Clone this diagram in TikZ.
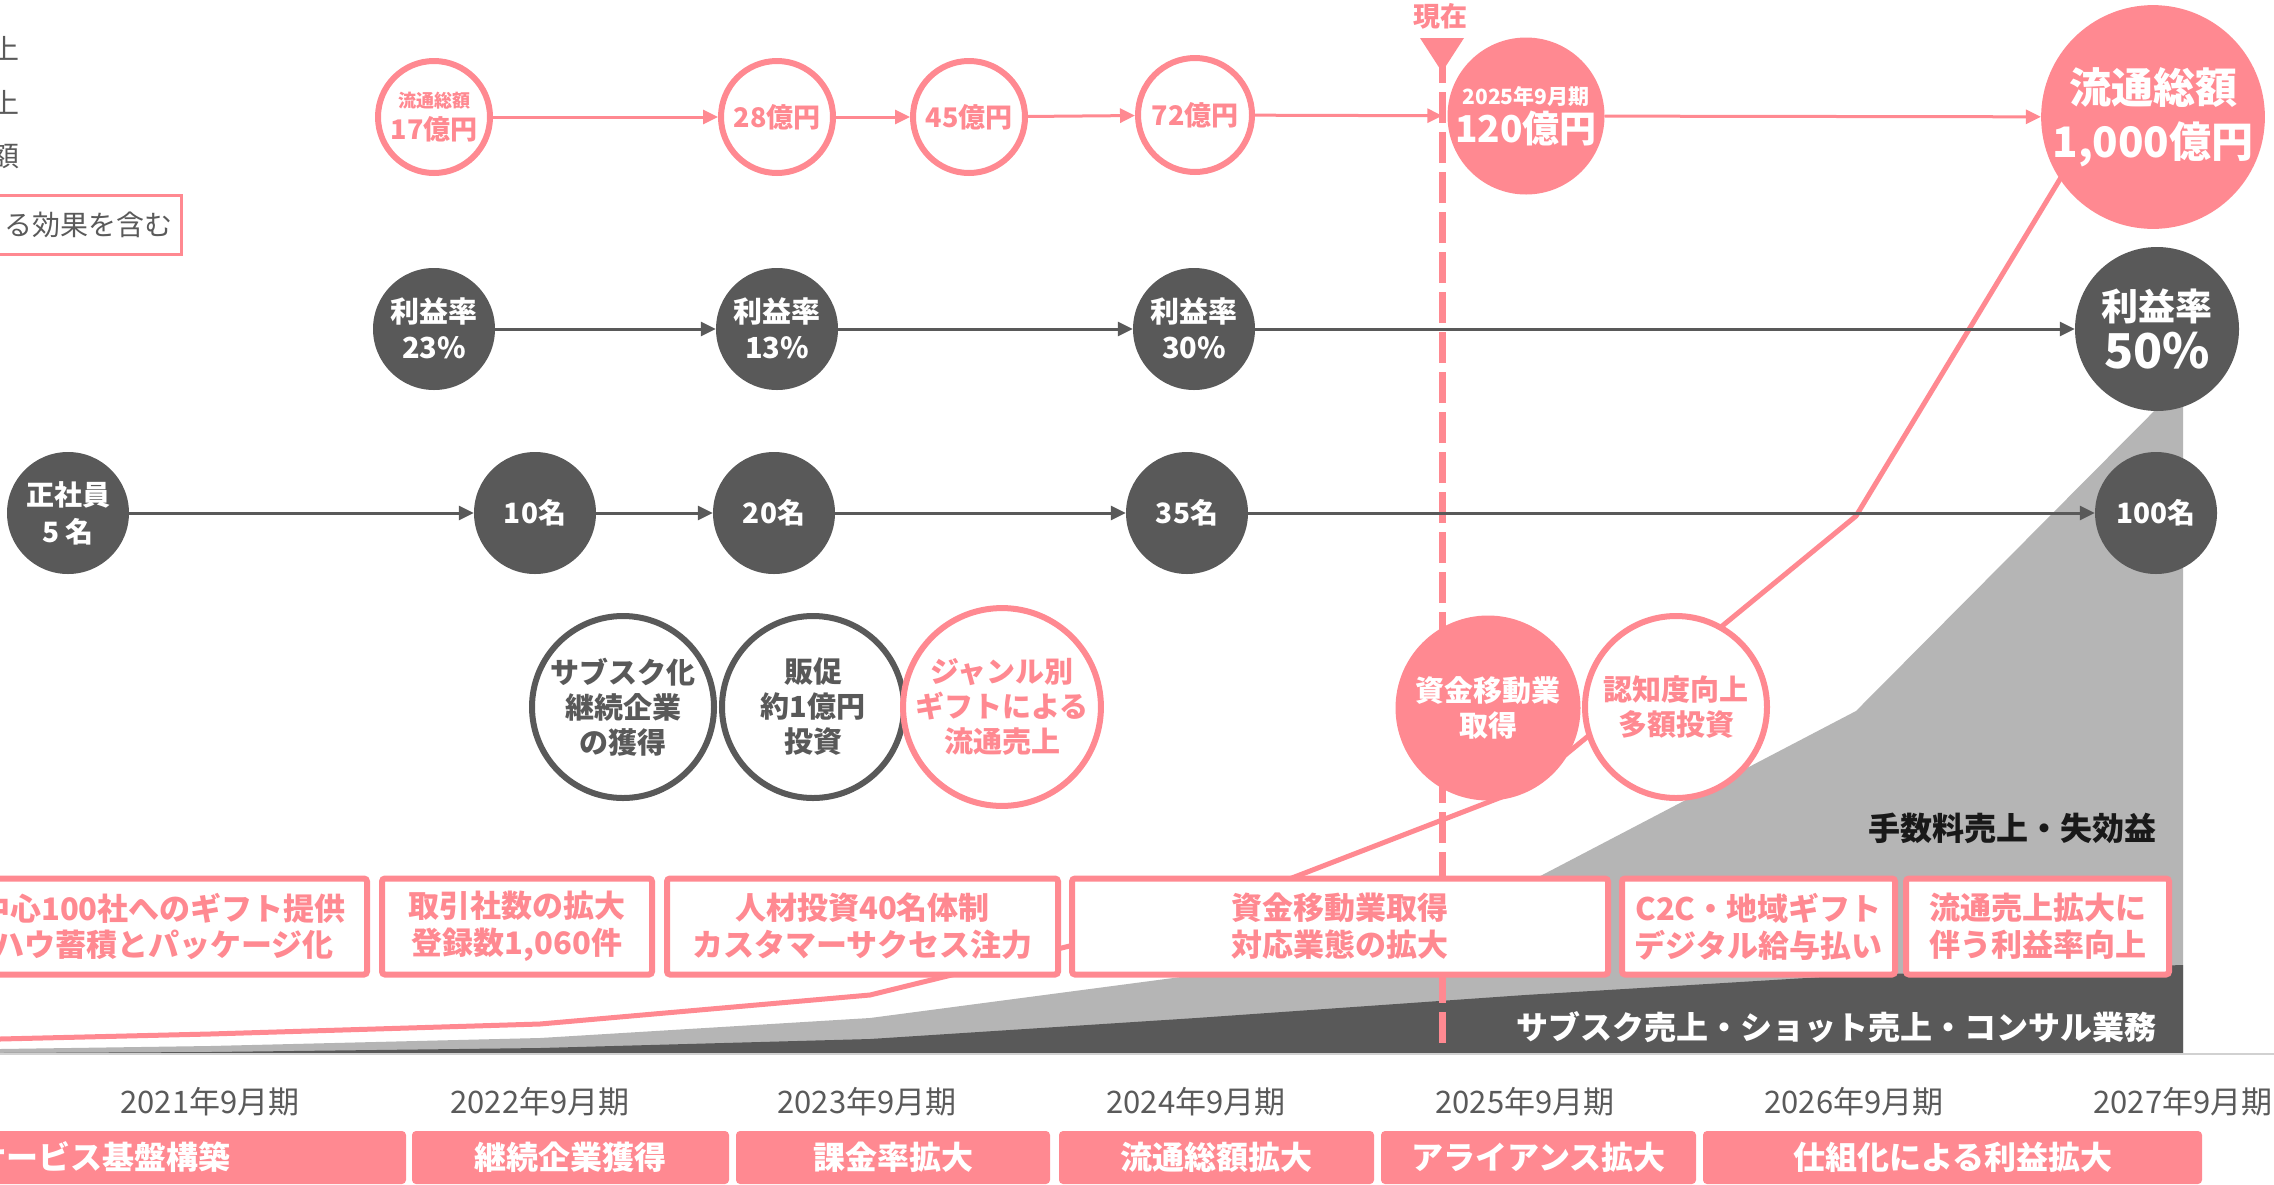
\documentclass[tikz,border=0pt]{standalone}
\usepackage{fontspec}
\setmainfont{Noto Sans CJK JP}
\usetikzlibrary{arrows.meta}
\definecolor{pk}{RGB}{255,137,145}
\definecolor{dg}{RGB}{89,89,89}
\definecolor{lg}{RGB}{181,181,181}
\definecolor{tg}{RGB}{90,90,90}
\newcommand\myfs[2]{\fontsize{#1}{#2}\selectfont}
\begin{document}
\begin{tikzpicture}[x=1pt,y=-1pt,
  pkfill/.style={circle,fill=pk,text=white,inner sep=0pt,align=center},
  pkring/.style={circle,draw=pk,line width=6pt,fill=white,text=pk,inner sep=0pt,align=center},
  dkfill/.style={circle,fill=dg,text=white,inner sep=0pt,align=center},
  dkring/.style={circle,draw=dg,line width=6pt,fill=white,text=dg,inner sep=0pt,align=center},
  pkarrow/.style={draw=pk,line width=3pt,-{Triangle[length=15pt,width=14pt]}},
  dkarrow/.style={draw=dg,line width=3pt,-{Triangle[length=15pt,width=14pt]}},
  msgbox/.style={rectangle,draw=pk,line width=6pt,fill=white,rounded corners=3pt,text=pk,align=center,inner sep=0pt,minimum height=96pt,font=\myfs{31}{37}\bfseries},
  phasebar/.style={rectangle,fill=pk,rounded corners=4pt,text=white,inner sep=0pt,minimum height=53pt,font=\myfs{32}{38}\bfseries},
  yearlbl/.style={text=tg,inner sep=0pt,font=\myfs{31}{37}},
  legendtxt/.style={text=tg,inner sep=0pt,font=\myfs{28}{34}},
]
\useasboundingbox (0,0) rectangle (2274,1184);
\clip (0,0) rectangle (2274,1184);
\fill[white] (0,0) rectangle (2274,1184);

% area chart
\fill[lg] (0,1053) -- (0,1049) -- (210,1046) -- (540,1038) -- (870,1018) -- (1196,975) -- (1525,884) -- (1856,711) -- (2183,382) -- (2183,1053) -- cycle;
\fill[dg] (0,1053) -- (210,1052) -- (540,1048) -- (870,1039) -- (1196,1018) -- (1525,995) -- (1856,975) -- (2183,965) -- (2183,1053) -- cycle;
\draw[line width=2pt,color=black!18] (0,1054) -- (2274,1054);
\draw[pk,line width=5pt,line join=round] (0,1039) -- (210,1034) -- (540,1024) -- (870,995) -- (1196,915) -- (1525,788) -- (1856,516) -- (2100,113);

% now marker
\node[text=pk,inner sep=0pt,font=\myfs{27}{32}\bfseries] (now) at (1440,16) {現在};
\fill[pk] (1420,38) -- (1464,38) -- (1442,72) -- cycle;
\draw[pk,line width=7pt] (1442,60) -- (1442,83);
\draw[pk,line width=7pt,dash pattern=on 31pt off 9pt] (1442,92) -- (1442,1043);

% legend (cut off at left)
\node[legendtxt,anchor=east] (lg1) at (20,48) {上};
\node[legendtxt,anchor=east] (lg2) at (20,102) {上};
\node[legendtxt,anchor=east] (lg3) at (20,156) {額};
\node[legendtxt,draw=pk,line width=3pt,anchor=east,minimum height=59pt,inner xsep=8pt] (note) at (182.5,225) {る効果を含む};

% row 1: distribution volume
\node[pkring,minimum size=112pt,font=\myfs{18}{32}\bfseries] (c17) at (434,117) {流通総額\\\myfs{27}{32}17億円};
\node[pkring,minimum size=112pt,font=\myfs{27}{32}\bfseries] (c28) at (777,117) {28億円};
\node[pkring,minimum size=112pt,font=\myfs{27}{32}\bfseries] (c45) at (969,117) {45億円};
\node[pkring,minimum size=114pt,font=\myfs{27}{32}\bfseries] (c72) at (1195,115) {72億円};
\node[pkfill,minimum size=157pt,font=\myfs{21}{38}\bfseries] (c120) at (1526,116) {2025年9月期\\\myfs{37}{38}120億円};
\node[pkfill,minimum size=222pt,font=\myfs{42}{54}\bfseries] (c1000) at (2153,117) {流通総額\\1,000億円};
\draw[pkarrow] (c17) -- (c28);
\draw[pkarrow] (c28) -- (c45);
\draw[pkarrow] (c45) -- (c72);
\draw[pkarrow,shorten >=5pt] (c72) -- (c120);
\draw[pkarrow] (c120) -- (c1000);

% row 2: profit rate
\node[dkfill,minimum size=122pt,font=\myfs{29}{36}\bfseries] (p23) at (434,329) {\raisebox{2pt}{利益率}\\\raisebox{2pt}{23\%}};
\node[dkfill,minimum size=122pt,font=\myfs{29}{36}\bfseries] (p13) at (777,329) {\raisebox{2pt}{利益率}\\\raisebox{2pt}{13\%}};
\node[dkfill,minimum size=122pt,font=\myfs{29}{36}\bfseries] (p30) at (1194,329) {\raisebox{2pt}{利益率}\\\raisebox{2pt}{30\%}};
\node[dkfill,minimum size=164pt,font=\myfs{37}{48}\bfseries] (p50) at (2157,329) {利益率\\\myfs{48}{48}50\%};
\draw[dkarrow] (p23) -- (p13);
\draw[dkarrow] (p13) -- (p30);
\draw[dkarrow] (p30) -- (p50);

% row 3: employees
\node[dkfill,minimum size=122pt,font=\myfs{28}{37}\bfseries] (e5) at (68,513) {正社員\\5 名};
\node[dkfill,minimum size=122pt,font=\myfs{28}{37}\bfseries] (e10) at (535,513) {10名};
\node[dkfill,minimum size=122pt,font=\myfs{28}{37}\bfseries] (e20) at (774,513) {20名};
\node[dkfill,minimum size=122pt,font=\myfs{28}{37}\bfseries] (e35) at (1187,513) {35名};
\node[dkfill,minimum size=122pt,font=\myfs{28}{37}\bfseries] (e100) at (2156,513) {100名};
\draw[dkarrow] (e5) -- (e10);
\draw[dkarrow] (e10) -- (e20);
\draw[dkarrow] (e20) -- (e35);
\draw[dkarrow] (e35) -- (e100);

% row 4: events
\node[dkring,minimum size=182pt,font=\myfs{29}{35}\bfseries] (ev1) at (623,707) {サブスク化\\継続企業\\の獲得};
\node[dkring,minimum size=182pt,font=\myfs{29}{35}\bfseries] (ev2) at (813,707) {販促\\約1億円\\投資};
\node[pkring,minimum size=182pt,font=\myfs{29}{35}\bfseries] (ev3) at (1002,707) {ジャンル別\\ギフトによる\\流通売上};
\node[pkfill,minimum size=185pt,font=\myfs{29}{35}\bfseries] (ev4) at (1488,708) {資金移動業\\取得};
\node[pkring,minimum size=182pt,font=\myfs{29}{35}\bfseries] (ev5) at (1676,707) {認知度向上\\多額投資};

% area labels
\node[anchor=east,inner sep=0pt,text=black!90,font=\myfs{32}{38}\bfseries] (feelbl) at (2157,828) {手数料売上・失効益};
\node[anchor=east,inner sep=0pt,text=white,font=\myfs{32}{38}\bfseries] (sublbl) at (2157,1027) {サブスク売上・ショット売上・コンサル業務};

% message boxes
\node[msgbox,minimum width=567pt] (b1) at (83.5,926.5) {};
\node[anchor=east,inner sep=0pt,text=pk,font=\myfs{31}{37}\bfseries] (b1a) at (346,908) {中心100社へのギフト提供};
\node[anchor=east,inner sep=0pt,text=pk,font=\myfs{31}{37}\bfseries] (b1b) at (334,945) {ノウハウ蓄積とパッケージ化};
\node[msgbox,minimum width=270pt] (b2) at (517,926.5) {取引社数の拡大\\登録数1,060件};
\node[msgbox,minimum width=391pt] (b3) at (862.5,926.5) {人材投資40名体制\\カスタマーサクセス注力};
\node[msgbox,minimum width=536pt] (b4) at (1340,926.5) {資金移動業取得\\対応業態の拡大};
\node[msgbox,minimum width=273pt] (b5) at (1758.5,926.5) {C2C・地域ギフト\\デジタル給与払い};
\node[msgbox,minimum width=263pt] (b6) at (2037.5,926.5) {流通売上拡大に\\伴う利益率向上};

% years
\node[yearlbl] (y21) at (210,1102) {2021年9月期};
\node[yearlbl] (y22) at (540,1102) {2022年9月期};
\node[yearlbl] (y23) at (867,1102) {2023年9月期};
\node[yearlbl] (y24) at (1196,1102) {2024年9月期};
\node[yearlbl] (y25) at (1525,1102) {2025年9月期};
\node[yearlbl] (y26) at (1854,1102) {2026年9月期};
\node[yearlbl] (y27) at (2183,1102) {2027年9月期};

% phase bars
\node[phasebar,minimum width=606pt] (ph1) at (103,1157.5) {サービス基盤構築};
\node[phasebar,minimum width=317pt] (ph2) at (570.5,1157.5) {継続企業獲得};
\node[phasebar,minimum width=314pt] (ph3) at (893,1157.5) {課金率拡大};
\node[phasebar,minimum width=315pt] (ph4) at (1216.5,1157.5) {流通総額拡大};
\node[phasebar,minimum width=315pt] (ph5) at (1538.5,1157.5) {アライアンス拡大};
\node[phasebar,minimum width=499pt] (ph6) at (1952.5,1157.5) {仕組化による利益拡大};
\end{tikzpicture}
\end{document}
